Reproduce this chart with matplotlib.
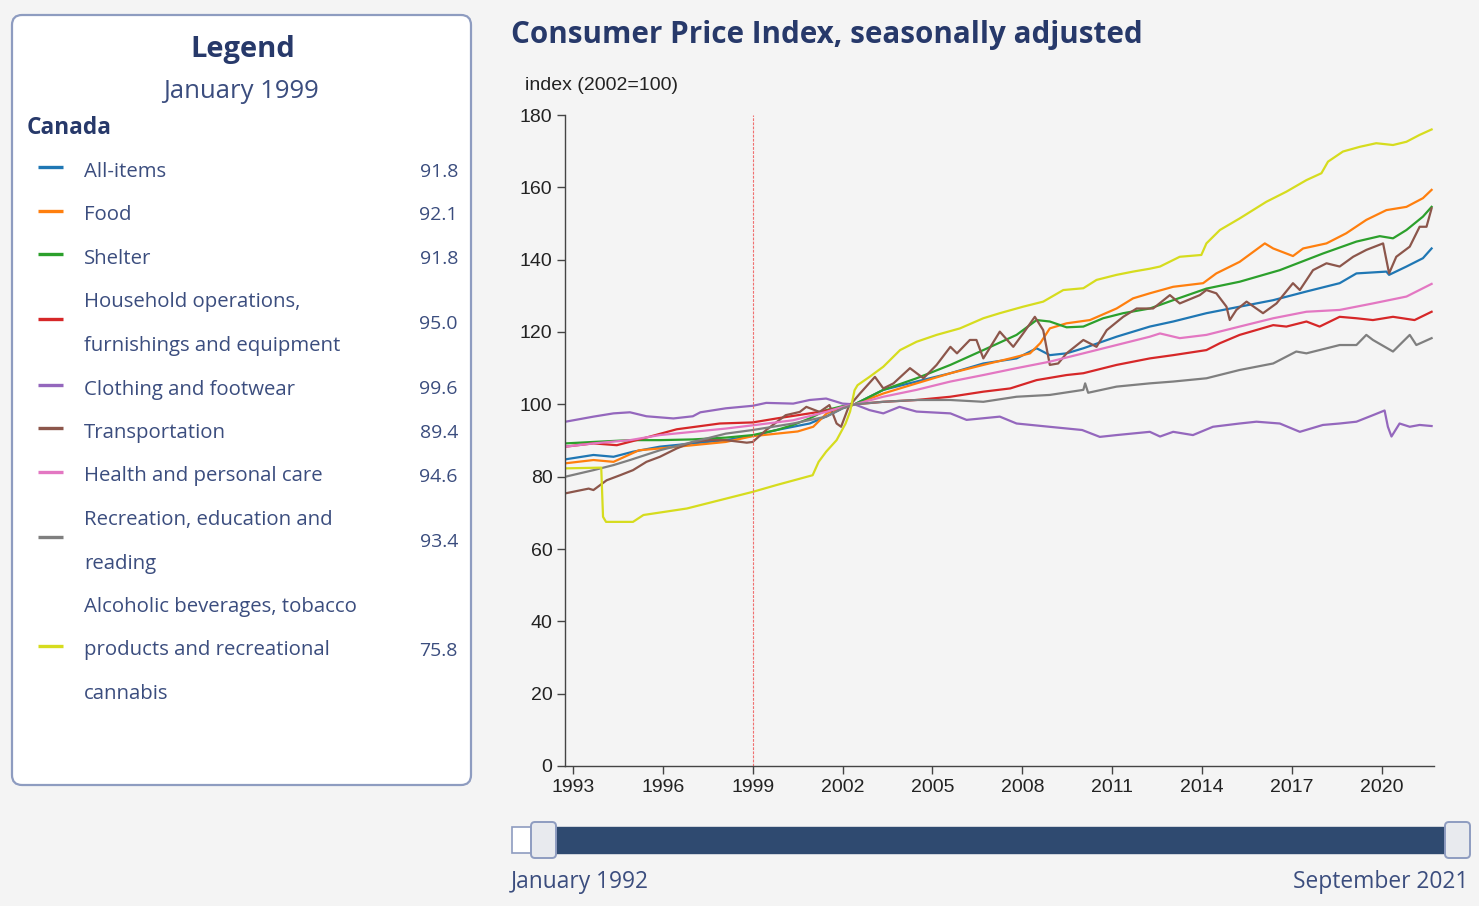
import matplotlib
matplotlib.use('Agg')
import matplotlib.pyplot as plt
from matplotlib.patches import FancyBboxPatch, Rectangle

# ---- data (year as decimal, index 2002=100) ----
all_items_t = [1992.75, 1993.68, 1994.35, 1995.0, 1995.9, 1997.0, 1998.1, 1999.0, 1999.8, 2000.9,
               2001.45, 2002.0, 2002.4, 2003.36, 2004.47, 2005.6, 2006.7, 2007.81, 2008.48, 2008.92,
               2009.48, 2010.04, 2011.15, 2012.26, 2013.04, 2014.15, 2015.26, 2016.38, 2017.49, 2018.6,
               2019.16, 2020.16, 2020.25, 2020.83, 2021.38, 2021.67]
all_items_v = [84.8, 86.0, 85.5, 86.9, 88.3, 89.2, 90.1, 91.3, 92.9, 94.7,
               96.6, 98.9, 100.0, 104.0, 106.3, 108.6, 111.3, 112.7, 115.5, 113.6,
               114.1, 115.5, 118.7, 121.5, 122.9, 125.2, 127.0, 128.8, 131.2, 133.5,
               136.2, 136.7, 135.8, 138.1, 140.4, 143.1]

food_t = [1992.75, 1993.68, 1994.35, 1995.2, 1995.9, 1997.0, 1998.1, 1999.0, 2000.5, 2001.02,
          2001.47, 2002.0, 2002.4, 2003.36, 2004.47, 2005.6, 2006.7, 2007.6, 2008.26, 2008.6,
          2008.92, 2009.48, 2010.26, 2011.15, 2011.7, 2012.26, 2013.04, 2014.04, 2014.48, 2015.26,
          2016.1, 2016.38, 2017.04, 2017.38, 2018.16, 2018.82, 2019.49, 2020.16, 2020.83, 2021.38,
          2021.67]
food_v = [83.7, 84.6, 84.1, 87.3, 87.8, 88.7, 89.6, 91.2, 92.5, 93.8,
          97.5, 99.3, 100.0, 103.0, 105.8, 108.6, 110.9, 112.7, 114.1, 116.9,
          121.0, 122.4, 123.3, 126.5, 129.3, 130.7, 132.5, 133.5, 136.2, 139.4,
          144.5, 143.1, 141.0, 143.1, 144.5, 147.3, 151.0, 153.7, 154.6, 157.0,
          159.3]

shelter_t = [1992.75, 1993.68, 1994.9, 1995.9, 1997.0, 1998.1, 1999.0, 1999.8, 2000.35, 2000.9,
             2001.45, 2002.0, 2002.4, 2003.36, 2004.47, 2005.6, 2006.7, 2007.81, 2008.48, 2008.92,
             2009.48, 2010.04, 2010.7, 2011.37, 2012.26, 2013.04, 2014.15, 2015.26, 2016.6, 2018.04,
             2019.16, 2019.94, 2020.38, 2020.83, 2021.38, 2021.67]
shelter_v = [89.2, 89.6, 90.1, 90.1, 90.3, 90.8, 91.5, 92.9, 94.3, 96.1,
             98.4, 99.5, 100.0, 104.0, 107.2, 110.9, 115.0, 119.2, 123.3, 122.9,
             121.3, 121.5, 123.8, 125.2, 126.5, 128.8, 132.0, 133.9, 137.1, 141.7,
             145.0, 146.5, 145.9, 148.2, 151.9, 154.6]

household_t = [1992.75, 1993.68, 1994.46, 1995.35, 1996.46, 1997.9, 1999.0, 1999.8, 2000.9, 2002.0,
               2002.4, 2003.36, 2004.47, 2005.6, 2006.7, 2007.6, 2008.48, 2009.48, 2010.04, 2011.15,
               2012.26, 2013.04, 2014.15, 2014.6, 2015.26, 2016.38, 2016.82, 2017.49, 2017.93, 2018.6,
               2019.16, 2019.71, 2020.38, 2021.1, 2021.67]
household_v = [88.3, 89.2, 88.7, 90.6, 93.1, 94.7, 95.0, 96.1, 97.5, 99.0,
               100.0, 100.7, 101.2, 102.1, 103.5, 104.4, 106.7, 108.1, 108.6, 110.9,
               112.7, 113.6, 115.0, 116.9, 119.2, 121.9, 121.5, 122.9, 121.5, 124.2,
               123.8, 123.3, 124.2, 123.3, 125.6]

clothing_t = [1992.75, 1993.68, 1994.35, 1994.9, 1995.45, 1996.35, 1997.0, 1997.25, 1998.1, 1999.0,
              1999.45, 2000.35, 2000.9, 2001.45, 2002.0, 2002.4, 2002.9, 2003.36, 2003.9, 2004.47,
              2005.6, 2006.14, 2007.25, 2007.81, 2008.9, 2010.0, 2010.59, 2011.15, 2012.26, 2012.6,
              2013.04, 2013.7, 2014.37, 2015.26, 2015.82, 2016.6, 2017.27, 2018.04, 2018.6, 2019.16,
              2019.71, 2020.1, 2020.21, 2020.33, 2020.6, 2020.94, 2021.27, 2021.67]
clothing_v = [95.2, 96.6, 97.5, 97.8, 96.7, 96.1, 96.7, 97.8, 98.9, 99.6,
              100.4, 100.2, 101.2, 101.6, 100.2, 100.0, 98.4, 97.5, 99.3, 98.0,
              97.5, 95.7, 96.6, 94.7, 93.8, 92.9, 91.0, 91.5, 92.4, 91.1,
              92.4, 91.5, 93.8, 94.7, 95.2, 94.7, 92.4, 94.3, 94.7, 95.2,
              97.0, 98.3, 93.8, 91.1, 94.7, 93.8, 94.3, 94.0]

transport_t = [1992.75, 1993.52, 1993.68, 1994.12, 1994.57, 1995.0, 1995.45, 1995.9, 1996.46, 1997.0,
               1997.57, 1998.1, 1998.8, 1999.0, 1999.45, 2000.1, 2000.57, 2000.79, 2001.23, 2001.56,
               2001.8, 2001.95, 2002.2, 2002.58, 2003.08, 2003.36, 2003.7, 2004.25, 2004.7, 2005.14,
               2005.6, 2005.82, 2006.25, 2006.47, 2006.7, 2007.25, 2007.7, 2008.03, 2008.42, 2008.7,
               2008.92, 2009.2, 2009.48, 2010.04, 2010.48, 2010.82, 2011.37, 2011.82, 2012.37, 2012.93,
               2013.26, 2013.93, 2014.15, 2014.48, 2014.82, 2014.93, 2015.15, 2015.49, 2016.04, 2016.49,
               2017.04, 2017.27, 2017.71, 2018.16, 2018.6, 2019.05, 2019.49, 2020.05, 2020.25, 2020.49,
               2020.94, 2021.27, 2021.5, 2021.67]
transport_v = [75.4, 76.7, 76.3, 79.0, 80.4, 81.8, 84.1, 85.5, 87.8, 89.6,
               90.1, 90.1, 89.4, 89.6, 92.9, 97.0, 97.9, 99.3, 97.9, 99.8,
               94.7, 93.8, 99.3, 103.0, 107.6, 104.4, 105.8, 110.0, 107.2, 110.9,
               115.9, 114.1, 117.8, 117.8, 112.7, 120.1, 115.9, 119.6, 124.2, 120.5,
               110.9, 111.3, 114.1, 117.8, 115.9, 120.5, 124.2, 126.5, 126.5, 130.2,
               127.9, 130.2, 131.6, 130.7, 127.0, 123.3, 126.1, 128.4, 125.2, 127.9,
               133.5, 131.6, 137.1, 139.0, 138.1, 140.8, 142.7, 144.5, 136.2, 140.8,
               143.6, 149.1, 149.1, 154.2]

health_t = [1992.75, 1993.68, 1994.9, 1995.9, 1997.0, 1998.1, 1999.0, 2000.35, 2001.45, 2002.0,
            2002.4, 2003.36, 2004.47, 2005.6, 2006.7, 2007.81, 2008.92, 2010.04, 2011.15, 2012.26,
            2012.6, 2013.26, 2014.15, 2015.26, 2016.38, 2017.49, 2018.6, 2019.71, 2020.83, 2021.67]
health_v = [88.3, 89.2, 90.1, 91.5, 92.4, 93.3, 94.2, 95.6, 97.9, 99.3,
            100.0, 102.1, 104.0, 106.3, 108.1, 110.0, 111.8, 114.1, 116.4, 118.7,
            119.6, 118.3, 119.2, 121.5, 123.8, 125.6, 126.1, 127.9, 129.8, 133.3]

recreation_t = [1992.75, 1993.68, 1994.35, 1994.9, 1995.9, 1997.0, 1998.1, 1999.0, 2000.35, 2001.45,
                2002.0, 2002.4, 2003.36, 2004.47, 2005.6, 2006.7, 2007.81, 2008.92, 2010.04, 2010.1,
                2010.2, 2011.15, 2012.26, 2013.04, 2014.15, 2015.26, 2016.38, 2017.15, 2017.49, 2018.6,
                2019.16, 2019.49, 2019.71, 2020.38, 2020.94, 2021.16, 2021.67]
recreation_v = [80.0, 81.8, 83.2, 84.6, 87.3, 89.6, 91.9, 92.9, 94.7, 96.6,
                98.9, 100.0, 100.7, 101.2, 101.2, 100.7, 102.1, 102.6, 104.0, 105.8,
                103.2, 104.9, 105.8, 106.3, 107.2, 109.5, 111.3, 114.6, 114.1, 116.4,
                116.4, 119.2, 117.8, 114.6, 119.2, 116.4, 118.3]

alcohol_t = [1992.75, 1993.94, 1994.0, 1994.1, 1995.0, 1995.35, 1996.8, 1997.9, 1999.0, 1999.8,
             2001.0, 2001.2, 2001.45, 2001.8, 2002.1, 2002.25, 2002.4, 2002.5, 2002.9, 2003.36,
             2003.92, 2004.47, 2005.14, 2005.92, 2006.7, 2007.25, 2008.03, 2008.7, 2009.37, 2010.04,
             2010.48, 2011.15, 2011.7, 2012.26, 2012.6, 2013.26, 2013.98, 2014.15, 2014.6, 2015.26,
             2016.15, 2016.82, 2017.49, 2017.99, 2018.21, 2018.71, 2019.27, 2019.82, 2020.38, 2020.83,
             2021.27, 2021.67]
alcohol_v = [82.3, 82.5, 68.9, 67.5, 67.5, 69.4, 71.2, 73.5, 75.8, 77.7,
             80.4, 84.1, 86.9, 90.1, 94.7, 98.0, 103.9, 105.3, 107.6, 110.4,
             115.0, 117.3, 119.2, 121.0, 123.8, 125.2, 127.0, 128.4, 131.6, 132.1,
             134.4, 135.8, 136.7, 137.5, 138.1, 140.8, 141.3, 144.5, 148.2, 151.4,
             156.0, 158.8, 162.0, 163.9, 167.1, 169.9, 171.2, 172.2, 171.7, 172.6,
             174.5, 176.0]

labels = ["All-items", "Food", "Shelter",
          "Household operations,\nfurnishings and equipment",
          "Clothing and footwear", "Transportation", "Health and personal care",
          "Recreation, education and\nreading",
          "Alcoholic beverages, tobacco\nproducts and recreational\ncannabis"]
jan1999 = ["91.8", "92.1", "91.8", "95.0", "99.6", "89.4", "94.6", "93.4", "75.8"]
colors = ["#1f77b4", "#ff7f0e", "#2ca02c", "#d62728", "#9467bd", "#8c564b",
          "#e377c2", "#7f7f7f", "#d6dc1e"]
series = [(all_items_t, all_items_v), (food_t, food_v), (shelter_t, shelter_v),
          (household_t, household_v), (clothing_t, clothing_v), (transport_t, transport_v),
          (health_t, health_v), (recreation_t, recreation_v), (alcohol_t, alcohol_v)]

xticks = list(range(1993, 2021, 3))
yticks = list(range(0, 181, 20))

NAVY = "#27396a"
TXT = "#3b4d7e"
SANS = ["Open Sans", "DejaVu Sans"]
ARIAL = ["Liberation Sans", "DejaVu Sans"]

W, H = 1479, 906
fig = plt.figure(figsize=(W / 100, H / 100), dpi=100, facecolor="#f4f4f4")

# overlay in pixel coords for the html-ish bits (legend panel, title, slider)
ov = fig.add_axes([0, 0, 1, 1], zorder=0)
ov.set_xlim(0, W)
ov.set_ylim(H, 0)
ov.axis("off")

# legend panel
ov.add_patch(FancyBboxPatch((12, 15), 459, 770, boxstyle="round,pad=0,rounding_size=10",
                            fc="white", ec="#8e9cc0", lw=1.6))
ov.text(243, 50, "Legend", ha="center", va="center", fontsize=21, fontweight="bold",
        color=NAVY, family=SANS)
ov.text(241, 92, "January 1999", ha="center", va="center", fontsize=18.5, color=TXT, family=SANS)
ov.text(27, 128, "Canada", ha="left", va="center", fontsize=16.3, fontweight="bold",
        color=NAVY, family=SANS)

y = 172
step = 43.5
for lab, val, c in zip(labels, jan1999, colors):
    lines = lab.split("\n")
    ys = [y + k * step for k in range(len(lines))]
    for ln, yy in zip(lines, ys):
        ov.text(84, yy, ln, ha="left", va="center", fontsize=14.7, color=TXT, family=SANS)
    mid = sum(ys) / len(ys)
    ov.plot([38, 63], [mid - 5, mid - 5], color=c, lw=2.4, solid_capstyle="butt")
    ov.text(458, mid, val, ha="right", va="center", fontsize=14, color=TXT, family=SANS)
    y = ys[-1] + step

# title + axis caption
ov.text(511, 35, "Consumer Price Index, seasonally adjusted", ha="left", va="center",
        fontsize=21.3, fontweight="bold", color=NAVY, family=SANS)
ov.text(525, 86, "index (2002=100)", ha="left", va="center", fontsize=14,
        color="#222222", family=ARIAL)

# range slider
ov.add_patch(Rectangle((512, 827), 40, 26, fc="white", ec="#8e9cc0", lw=1.2))
ov.add_patch(Rectangle((543, 827), 914, 26, fc="#2f4a70", ec="#2f4a70", lw=1))
for hx in (531, 1445):
    ov.add_patch(FancyBboxPatch((hx, 822), 25, 36, boxstyle="round,pad=0,rounding_size=4",
                                fc="#e8eaee", ec="#8e9cc0", lw=1.4))
ov.text(511, 882, "January 1992", ha="left", va="center", fontsize=16.4, color=TXT, family=SANS)
ov.text(1468, 882, "September 2021", ha="right", va="center", fontsize=16.4, color=TXT, family=SANS)

# main chart
ax = fig.add_axes([565 / W, 1 - 766 / H, (1434 - 565) / W, (766 - 115) / H], zorder=1)
ax.set_facecolor("none")
for (t, v), c in zip(series, colors):
    ax.plot(t, v, color=c, lw=1.6, solid_joinstyle="round")
ax.axvline(1999.0, color="#f07070", lw=0.8, ls=(0, (2.5, 1.2)))

ax.set_xlim(1992.73, 2021.75)
ax.set_ylim(0, 180)
ax.set_xticks(xticks)
ax.set_yticks(yticks)
for s in ("top", "right"):
    ax.spines[s].set_visible(False)
for s in ("left", "bottom"):
    ax.spines[s].set_color("#444444")
    ax.spines[s].set_linewidth(1.0)
ax.tick_params(length=6, width=1, color="#444444", labelsize=14, labelcolor="#222222", pad=3)
for lbl in ax.get_xticklabels() + ax.get_yticklabels():
    lbl.set_family(ARIAL)

fig.savefig("out.png", dpi=100, facecolor=fig.get_facecolor())
